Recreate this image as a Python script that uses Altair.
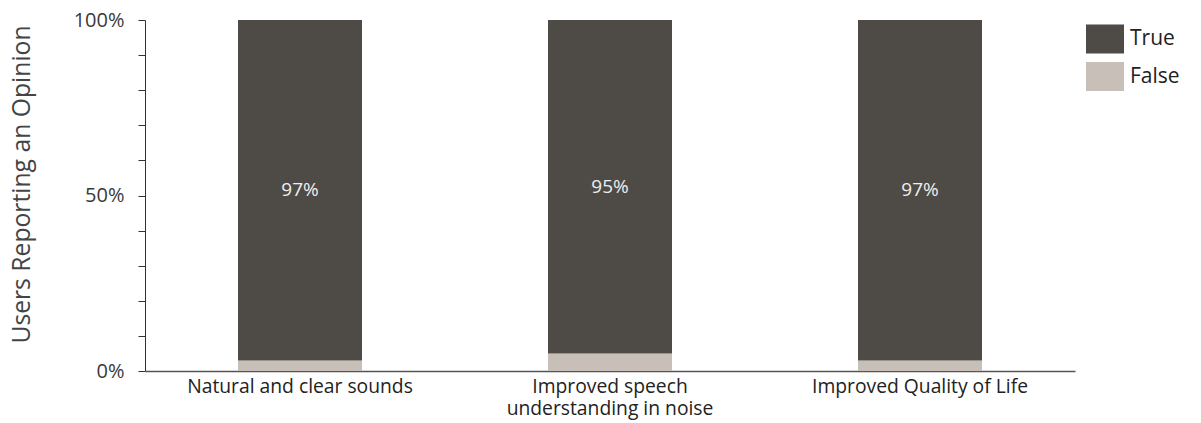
import altair as alt
import pandas as pd

categories = ["Natural and clear sounds", "Improved speech\nunderstanding in noise", "Improved Quality of Life"]
true_pct = [97, 95, 97]
false_pct = [3, 5, 3]
series = ["True", "False"]
colors = ["#4e4a46", "#c8c0b8"]
y_ticks = [0, 10, 20, 30, 40, 50, 60, 70, 80, 90, 100]

rows = []
for c, t, f in zip(categories, true_pct, false_pct):
    rows.append({"cat": c, "series": "False", "value": f, "ord": 0, "base": 0})
    rows.append({"cat": c, "series": "True", "value": t, "ord": 1, "base": f})
df = pd.DataFrame(rows)

FONT = "Open Sans"

x_axis = alt.Axis(labelAngle=0, ticks=False, labelFontSize=19.3, labelColor="#222222",
                  labelFont=FONT, labelPadding=6, labelLineHeight=22, labelLimit=0,
                  labelExpr="split(datum.label, '\\n')",
                  domainColor="#555555", domainWidth=1.5)
x_scale = alt.Scale(paddingInner=0.6, paddingOuter=0.3)

y_axis = alt.Axis(values=y_ticks, tickCount=30, grid=False, tickSize=7,
                  tickColor="#333333", domainColor="#333333", labelOverlap=False,
                  labelExpr="datum.value % 50 === 0 ? datum.value + '%' : ''",
                  labelFontSize=20, labelColor="#3a3a3a", labelFont=FONT, labelPadding=14,
                  titleFontSize=24.7, titleFont=FONT, titleColor="#444444", titleFontWeight="normal",
                  titleAngle=-90, titleX=-123, titleY=164, titleAlign="center",
                  titleBaseline="middle")
y_scale = alt.Scale(domain=[0, 100], nice=False)

bars = alt.Chart(df).mark_bar().encode(
    x=alt.X("cat:N", sort=categories, title=None, scale=x_scale, axis=x_axis),
    y=alt.Y("value:Q", stack="zero", title="Users Reporting an Opinion", scale=y_scale, axis=y_axis),
    color=alt.Color("series:N", sort=series,
                    scale=alt.Scale(domain=series, range=colors),
                    legend=alt.Legend(title=None, orient="none", legendX=941, legendY=0,
                                      symbolType="M-1,-0.763H1V0.763H-1Z", symbolSize=1444,
                                      symbolStrokeWidth=0, symbolOpacity=1,
                                      labelFontSize=21, labelFont=FONT, labelColor="#222222",
                                      rowPadding=3.5, labelOffset=6, padding=0)),
    order=alt.Order("ord:Q"),
)

labels = alt.Chart(df).transform_filter(
    alt.datum.series == "True"
).transform_calculate(
    mid="datum.base + datum.value / 2",
    txt="datum.value + '%'"
).mark_text(font=FONT, fontSize=19, color="#eeeeee").encode(
    x=alt.X("cat:N", sort=categories, title=None, scale=x_scale, axis=x_axis),
    y=alt.Y("mid:Q", title="Users Reporting an Opinion", scale=y_scale, axis=y_axis),
    text="txt:N",
)

chart = alt.layer(bars, labels).properties(
    width=930, height=351,
    autosize=alt.AutoSizeParams(type="none"),
    padding={"left": 137, "top": 12, "right": 118, "bottom": 50},
).configure_view(stroke=None)

chart.save("out.html", embed_options={"renderer": "svg", "actions": False})
